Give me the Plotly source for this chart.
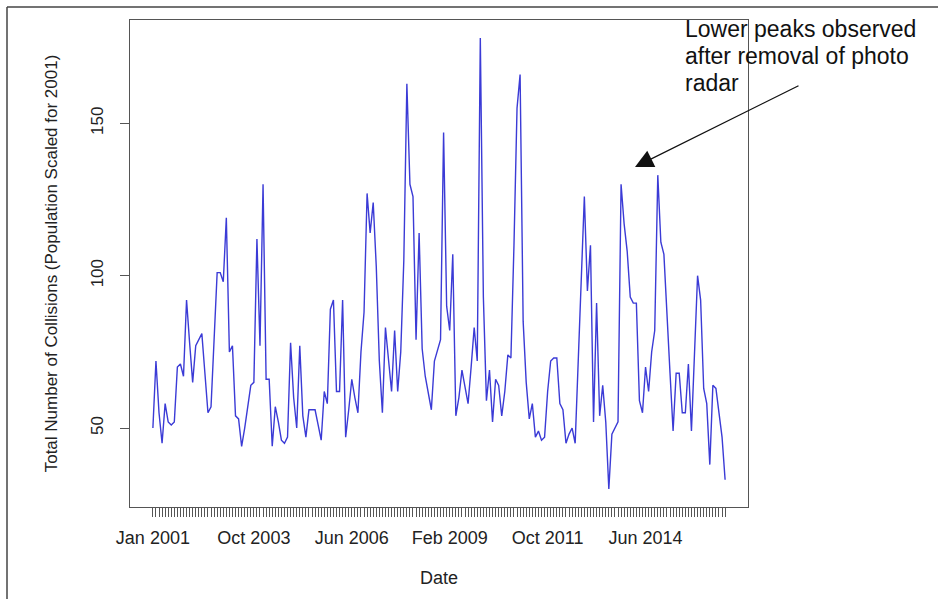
import plotly.graph_objects as go

# Monthly collision totals (population scaled for 2001), Jan 2001 - Aug 2016
collisions = [
    50, 72, 55, 45, 58, 52, 51, 52, 70, 71, 67, 92,
    78, 65, 77, 79, 81, 68, 55, 57, 80, 101, 101, 98,
    119, 75, 77, 54, 53, 44, 50, 57, 64, 65, 112, 77,
    130, 66, 66, 44, 57, 52, 46, 45, 47, 78, 60, 50,
    77, 54, 47, 56, 56, 56, 51, 46, 62, 58, 89, 92,
    62, 62, 92, 47, 56, 66, 60, 55, 75, 88, 127, 114,
    124, 103, 72, 55, 83, 72, 62, 82, 62, 75, 105, 163,
    130, 126, 79, 114, 76, 67, 61, 56, 72, 76, 79, 147,
    90, 82, 107, 54, 60, 69, 63, 58, 70, 83, 72, 178,
    93, 59, 69, 52, 66, 64, 54, 62, 74, 73, 110, 155,
    166, 85, 65, 53, 58, 47, 49, 46, 47, 62, 72, 73,
    73, 58, 56, 45, 48, 50, 45, 70, 98, 126, 95, 110,
    52, 91, 54, 64, 52, 30, 48, 50, 52, 130, 117, 108,
    93, 91, 91, 59, 55, 70, 62, 75, 82, 133, 111, 107,
    85, 68, 49, 68, 68, 55, 55, 71, 49, 75, 100, 92,
    63, 58, 38, 64, 63, 55, 47, 33,
]

month_names = ["Jan", "Feb", "Mar", "Apr", "May", "Jun",
               "Jul", "Aug", "Sep", "Oct", "Nov", "Dec"]
start_year = 2001
month_idx = list(range(len(collisions)))
month_labels = [f"{month_names[i % 12]} {start_year + i // 12}" for i in month_idx]

# Only every 32nd month label fits along the axis
labelled_months = [0, 33, 65, 97, 129, 161]
tick_text = [month_labels[i] if i in labelled_months else "" for i in month_idx]

y_ticks = [50, 100, 150]

note_lines = ["Lower peaks observed", "after removal of photo", "radar"]

# R-style 4% padding around the data range
n = len(collisions)
x_pad = 0.04 * (n - 1)
y_lo, y_hi = min(collisions), max(collisions)
y_pad = 0.04 * (y_hi - y_lo)

W, H = 938, 599
L, R, T, B = 130, 748, 20, 507


def px(x):
    return (x - L) / (R - L)


def py(y):
    return (B - y) / (B - T)


fig = go.Figure()
fig.add_trace(go.Scatter(
    x=month_idx, y=collisions, mode="lines",
    line=dict(color="#3b3bd6", width=1.4),
    hoverinfo="skip", showlegend=False,
))

font_family = "Liberation Sans, Arial, sans-serif"

# Note text, one annotation per line for a tight line pitch
notes = [
    dict(xref="paper", yref="paper", x=px(683), y=py(29.5 + 26.5 * k),
         xanchor="left", yanchor="middle", align="left",
         text=line, showarrow=False,
         font=dict(size=23, color="#111111", family=font_family))
    for k, line in enumerate(note_lines)
]

fig.update_layout(
    width=W, height=H,
    margin=dict(l=L, r=W - R, t=T, b=H - B, pad=0),
    paper_bgcolor="white", plot_bgcolor="white",
    font=dict(family=font_family, color="#222222", size=17),
    xaxis=dict(
        range=[-x_pad, n - 1 + x_pad],
        tickmode="array", tickvals=month_idx, ticktext=tick_text,
        ticks="outside", ticklen=9, tickwidth=1, tickcolor="#555555",
        ticklabelstandoff=5,
        tickfont=dict(size=18, color="#222222"),
        showgrid=False, zeroline=False,
        showline=True, mirror=True, linecolor="#555555", linewidth=1,
        title=dict(text="Date", font=dict(size=18, color="#222222"), standoff=24),
    ),
    yaxis=dict(
        range=[y_lo - y_pad, y_hi + y_pad],
        tickmode="array", tickvals=y_ticks,
        ticks="outside", ticklen=9, tickwidth=1, tickcolor="#555555",
        tickangle=-90, ticklabelstandoff=10,
        tickfont=dict(size=17, color="#222222"),
        showgrid=False, zeroline=False,
        showline=True, mirror=True, linecolor="#555555", linewidth=1,
        title=dict(text="Total Number of Collisions (Population Scaled for 2001)",
                   font=dict(size=17, color="#222222"), standoff=26),
    ),
    shapes=[
        dict(type="line", xref="paper", yref="paper",
             x0=px(7), x1=px(W + 5), y0=py(7), y1=py(7),
             line=dict(color="#444444", width=1.5)),
        dict(type="line", xref="paper", yref="paper",
             x0=px(7), x1=px(7), y0=py(7), y1=py(H + 5),
             line=dict(color="#444444", width=1.5)),
    ],
    annotations=notes + [
        dict(xref="paper", yref="paper", x=px(635), y=py(167),
             ax=165, ay=-82, axref="pixel", ayref="pixel",
             text="", showarrow=True, arrowhead=2, arrowsize=2.8,
             arrowwidth=1.3, arrowcolor="#111111"),
    ],
)

fig.write_html("out.html")
